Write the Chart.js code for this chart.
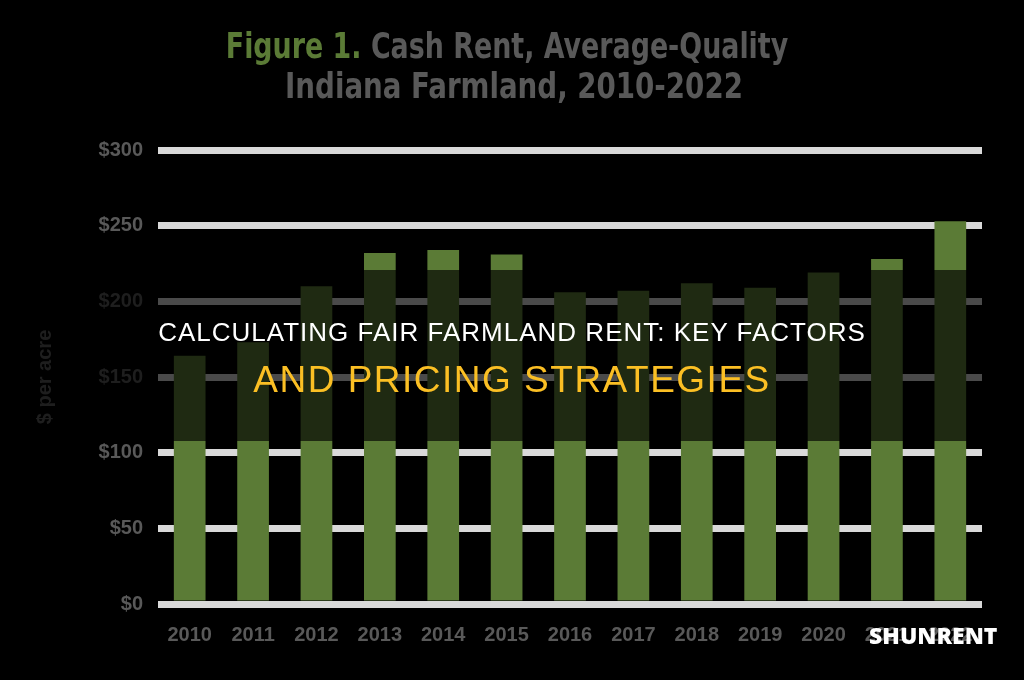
<!DOCTYPE html>
<html lang="en">
<head>
<meta charset="UTF-8">
<title>Cash Rent, Average-Quality Indiana Farmland</title>
<script src="https://cdn.jsdelivr.net/npm/chart.js"></script>
<style>
  body{
    margin: 0;
    background-color: #000;
    width: 1024px;
    height: 680px;
    overflow: hidden;
    position: relative;
    font-family: "Liberation Sans", Arial, sans-serif;
  }
  #chart{
    position: absolute;
    left: 0;
    top: 0;
  }
  .title{
    position: absolute;
    left: 0;
    width: 1024px;
    text-align: center;
    font-family: "Liberation Sans Narrow", "DejaVu Sans Condensed", sans-serif;
    font-weight: bold;
    font-size: 36px;
    color: #595959;
    white-space: nowrap;
    transform-origin: 512px 0;
  }
  .title .fig{ color: #5b7b36; }
  .band{
    position: absolute;
    left: 0;
    top: 270px;
    width: 1024px;
    height: 171px;
    background: rgba(0,0,0,0.66);
  }
  .headline{
    position: absolute;
    left: 0;
    width: 1024px;
    text-align: center;
    white-space: nowrap;
    font-family: "Liberation Sans", Arial, sans-serif;
  }
  .wm{
    position: absolute;
    left: 869px;
    top: 619px;
    font-family: "Open Sans", sans-serif;
    font-weight: 800;
    font-size: 23px;
    color: #fff;
  }
</style>
</head>
<body>
<canvas id="chart" width="1024" height="680"></canvas>

<div class="title" style="top: 25px; left: -5px; transform: scaleX(0.83);"><span class="fig">Figure 1.</span> Cash Rent, Average-Quality</div>
<div class="title" style="top: 65px; left: 2px; transform: scaleX(0.855);">Indiana Farmland, 2010-2022</div>

<div class="band"></div>
<div class="headline" style="top: 317px; font-size: 26px; letter-spacing: 1px; color: #fff;">CALCULATING FAIR FARMLAND RENT: KEY FACTORS</div>
<div class="headline" style="top: 359px; font-size: 37px; letter-spacing: 1.5px; color: #fbbf24;">AND PRICING STRATEGIES</div>
<div class="wm">SHUNRENT</div>

<script>
// data ($ per acre)
const years = ["2010","2011","2012","2013","2014","2015","2016","2017","2018","2019","2020","2021","2022"];
const rent = [164, 173, 210, 232, 234, 231, 206, 207, 212, 209, 219, 228, 253];
const yTicks = [0, 50, 100, 150, 200, 250, 300];

const gray = "#595959";

new Chart(document.getElementById("chart").getContext("2d"), {
  type: "bar",
  data: {
    labels: years,
    datasets: [{
      label: "Cash rent",
      data: rent,
      backgroundColor: "#5b7b36",
      borderWidth: 0,
      barPercentage: 0.5,
      categoryPercentage: 1.0
    }]
  },
  options: {
    responsive: false,
    animation: false,
    layout: { padding: { top: 150, right: 42, bottom: 22, left: 33 } },
    plugins: {
      legend: { display: false },
      tooltip: { enabled: false }
    },
    scales: {
      x: {
        grid: { display: false },
        border: { display: false },
        ticks: {
          color: gray,
          padding: 11,
          font: { family: "Liberation Sans", size: 20, weight: "bold" }
        }
      },
      y: {
        min: yTicks[0],
        max: yTicks[yTicks.length - 1],
        afterFit: (s) => { s.width = 125; },
        afterBuildTicks: (s) => { s.ticks = yTicks.map(v => ({ value: v })); },
        grid: { color: "#d9d9d9", lineWidth: 7, drawTicks: false },
        border: { display: false },
        ticks: {
          color: gray,
          padding: 15,
          font: { family: "Liberation Sans", size: 20, weight: "bold" },
          callback: (v) => "$" + v
        },
        title: {
          display: true,
          text: "$ per acre",
          color: gray,
          padding: { top: 0, bottom: 0 },
          font: { family: "Liberation Sans", size: 20, weight: "bold" }
        }
      }
    }
  }
});
</script>
</body>
</html>
